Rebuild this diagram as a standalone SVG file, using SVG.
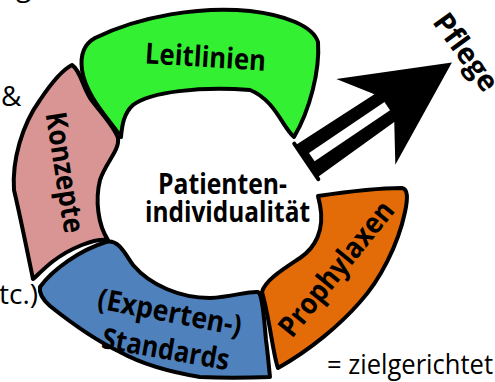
<svg xmlns="http://www.w3.org/2000/svg" width="495" height="382" viewBox="0 0 495 382">
<style>
.shape{stroke:#000;stroke-width:4;stroke-linejoin:round}
.b{font-family:"Open Sans","Noto Sans","DejaVu Sans",sans-serif;font-weight:700;font-size:29px;fill:#000}
.r{font-family:"Open Sans","Noto Sans","DejaVu Sans",sans-serif;font-weight:400;font-size:28px;fill:#000}
</style>
<rect width="495" height="382" fill="#fff"/>
<text class="r" x="16" y="-4">g</text>
<text class="r" x="1" y="106">&amp;</text>
<text class="r" x="-1" y="304">tc.)</text>
<text class="r" x="327" y="374" textLength="166" lengthAdjust="spacingAndGlyphs">= zielgerichtet</text>
<g id="leitlinien">
<path class="shape" fill="#33f033" d="M121,137 C108,118 86,96 82,70 C80,55 84,44 95,38 C140,16 200,6 250,11 C285,15 313,26 318,42 C320,70 310,110 294,137 C283,128 275,100 250,90 C200,86 150,92 133,105 C124,113 122,125 121,137 Z"/>
<text class="b" transform="translate(205,67) rotate(3.5)" text-anchor="middle" textLength="121" lengthAdjust="spacingAndGlyphs">Leitlinien</text>
</g>
<g id="konzepte">
<path class="shape" fill="#d99594" d="M72,65 C80,70 82,85 90,98 C100,112 114,126 118,138 C120,150 106,162 100,180 C95,200 98,225 108,240 C95,238 70,248 52,262 C42,270 36,277 33,279 C28,255 20,215 14,190 C12,160 22,125 40,100 C52,82 62,70 72,65 Z"/>
<text class="b" transform="translate(55,174) rotate(81)" text-anchor="middle" textLength="122" lengthAdjust="spacingAndGlyphs">Konzepte</text>
</g>
<g id="standards">
<path class="shape" fill="#4f81bd" d="M40,287 C52,270 80,250 106,242 C118,239 124,252 133,265 C150,285 180,298 210,298 C232,297 248,291 258,292 C263,295 264,320 266,340 C268,355 269,368 270,377 C245,378 220,378 200,377 C170,372 140,363 120,352 C95,340 70,322 50,306 C42,299 39,293 40,287 Z"/>
<text class="b" transform="translate(168,322) rotate(11)" text-anchor="middle" textLength="146" lengthAdjust="spacingAndGlyphs">(Experten-)</text>
<text class="b" transform="translate(164,359) rotate(10)" text-anchor="middle" textLength="129" lengthAdjust="spacingAndGlyphs">Standards</text>
</g>
<g id="prophylaxen">
<path class="shape" fill="#e36c09" d="M318,196 C345,192 380,188 402,188 C408,189 408,198 405,212 C398,245 380,280 360,302 C340,325 310,350 278,368 C273,355 270,320 262,292 C265,280 285,268 300,258 C315,248 325,230 320,205 Z"/>
<text class="b" transform="translate(344,275) rotate(-51)" text-anchor="middle" textLength="165" lengthAdjust="spacingAndGlyphs">Prophylaxen</text>
</g>
<g id="center">
<text class="b" x="222.5" y="194" text-anchor="middle" textLength="129" lengthAdjust="spacingAndGlyphs">Patienten-</text>
<text class="b" x="227.5" y="222" text-anchor="middle" textLength="165" lengthAdjust="spacingAndGlyphs">individualität</text>
</g>
<g id="connectors">
<g transform="translate(306,161) rotate(-34)">
<polygon fill="#000" points="0,-19 94,-17 71,-51 176,0 72,53 95,17 0,20"/>
<rect x="7" y="-5" width="91" height="10" fill="#fff"/>
<line x1="0" y1="-21" x2="0" y2="22" stroke="#000" stroke-width="4" stroke-linecap="round"/>
</g>
</g>
<g id="pflege">
<text class="b" transform="translate(458,58) rotate(54)" text-anchor="middle" font-size="30">Pflege</text>
</g>
</svg>
